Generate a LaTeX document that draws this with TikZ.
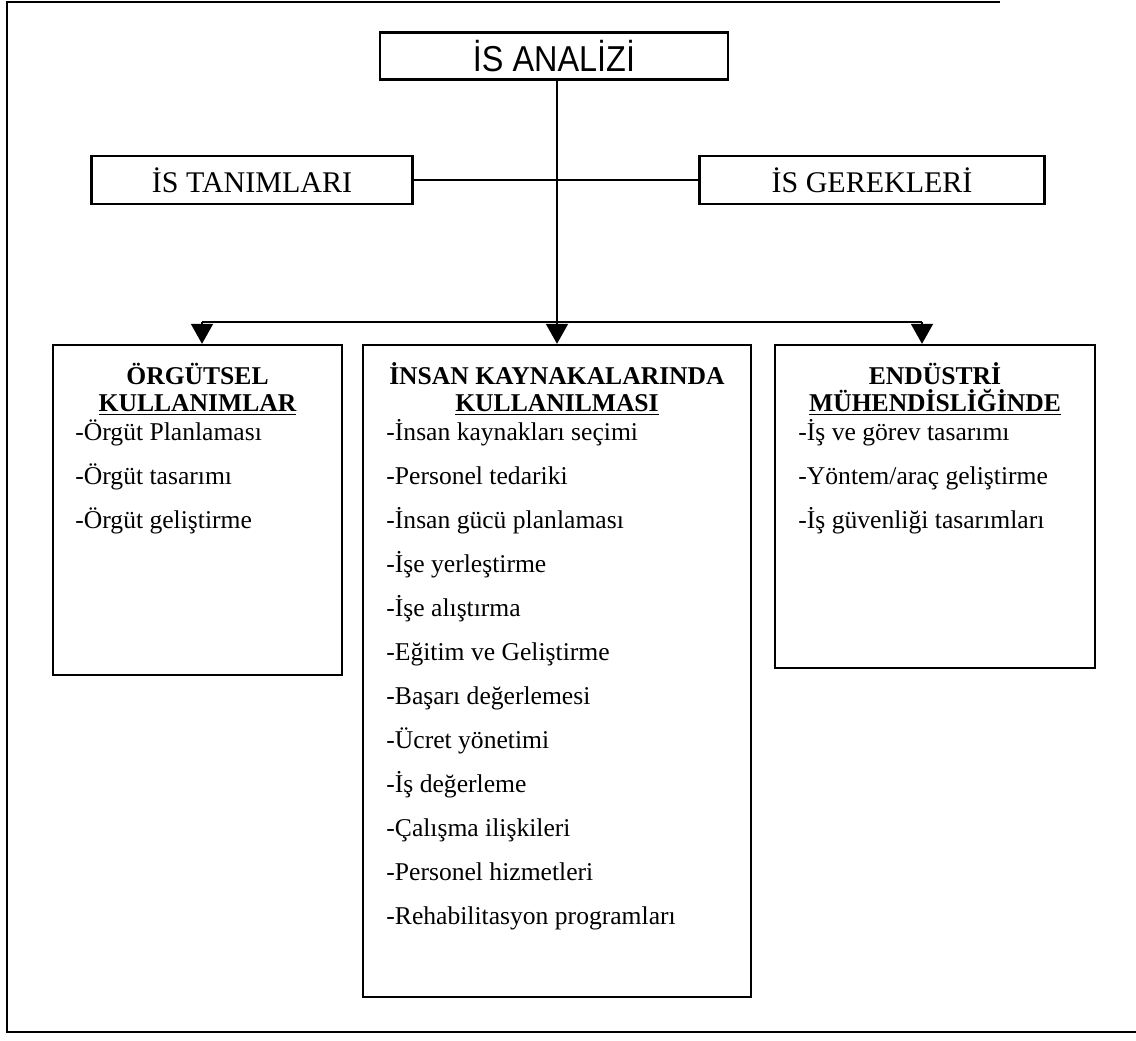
\documentclass[tikz,border=0pt]{standalone}
\usepackage{fontspec}
\setmainfont{Liberation Serif}
\newfontfamily\narrowsans[FakeStretch=0.9]{Liberation Sans}
\usetikzlibrary{arrows.meta,positioning}

\begin{document}
\begin{tikzpicture}[x=.5pt,y=-.5pt,
    box/.style={draw,line width=1.2pt,inner sep=0pt},
    topbox/.style={box,minimum height=24pt,font=\fontsize{15}{18}\selectfont},
    head/.style={anchor=base,inner sep=0pt,font=\bfseries\fontsize{12.8}{13.5}\selectfont},
    item/.style={anchor=base west,inner sep=0pt,font=\fontsize{12.8}{15}\selectfont},
    link/.style={line width=1pt},
    arr/.style={link,-{Triangle[length=10pt,width=11pt]}}]
  \useasboundingbox (0,0) rectangle (1136,1040);
  % page frame
  \draw[line width=1pt] (1000,2) -- (7,2) -- (7,1032) -- (1136,1032);
  % top of the tree
  \node[box,minimum width=174pt,minimum height=23.5pt,
        font=\narrowsans\fontsize{18}{20}\selectfont] (ana) at (554,56) {İS ANALİZİ};
  \node[topbox,minimum width=160.5pt] (tan) at (252,180) {İS TANIMLARI};
  \node[topbox,minimum width=172.5pt] (ger) at (872,180) {İS GEREKLERİ};
  % the three boxes
  \node[box,minimum width=144.5pt,minimum height=165pt] (org) at (197.5,510) {};
  \node[box,minimum width=194pt,minimum height=326pt] (ik) at (557,671) {};
  \node[box,minimum width=160pt,minimum height=161.5pt] (end) at (935,506.5) {};
  % connectors
  \coordinate (lsplit) at (202,322);
  \coordinate (rsplit) at (922,322);
  \draw[link] (tan) -- (ger);
  \draw[arr] (ana.south -| ik.north) -- (ik.north);
  \draw[link] (lsplit) -- (rsplit);
  \draw[arr] (lsplit) -- (lsplit |- org.north);
  \draw[arr] (rsplit) -- (rsplit |- end.north);
  % headings
  \node[head] (orgh) at (197.5,384) {ÖRGÜTSEL};
  \node[head] (orgu) at (197.5,411) {\underline{KULLANIMLAR}};
  \node[head] (ikh) at (557,384) {İNSAN KAYNAKALARINDA};
  \node[head] (iku) at (557,411) {\underline{KULLANILMASI}};
  \node[head] (endh) at (935,384) {ENDÜSTRİ};
  \node[head] (endu) at (935,411) {\underline{MÜHENDİSLİĞİNDE}};
  % items
  \foreach \t [count=\i from 0] in {-Örgüt Planlaması,-Örgüt tasarımı,-Örgüt geliştirme}
    \node[item] (orgit\i) at (75,440+44*\i) {\t};
  \foreach \t [count=\i from 0] in {-İnsan kaynakları seçimi,-Personel tedariki,
      -İnsan gücü planlaması,-İşe yerleştirme,-İşe alıştırma,-Eğitim ve Geliştirme,
      -Başarı değerlemesi,-Ücret yönetimi,-İş değerleme,-Çalışma ilişkileri,
      -Personel hizmetleri,-Rehabilitasyon programları}
    \node[item] (ikit\i) at (386,440+44*\i) {\t};
  \foreach \t [count=\i from 0] in {-İş ve görev tasarımı,-Yöntem/araç geliştirme,
      -İş güvenliği tasarımları}
    \node[item] (endit\i) at (798,440+44*\i) {\t};
\end{tikzpicture}
\end{document}
